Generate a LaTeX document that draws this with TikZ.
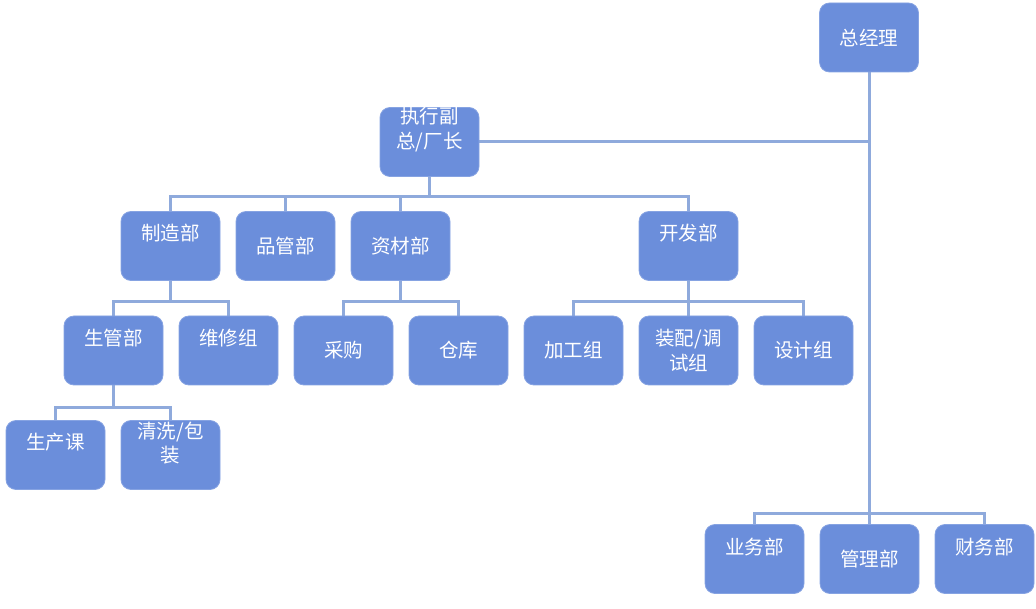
\documentclass[tikz,border=0pt]{standalone}
\usepackage{fontspec}
\setmainfont{Noto Sans CJK SC}
\usetikzlibrary{backgrounds}
\definecolor{boxfill}{HTML}{6B8EDB}
\definecolor{boxline}{HTML}{86A3E2}
\definecolor{conn}{HTML}{8FAADC}
\begin{document}
\begin{tikzpicture}[x=1pt,y=-1pt,
  box/.style={draw=boxline,line width=0.8pt,fill=boxfill,rounded corners=10pt,minimum width=99pt,minimum height=69pt,inner sep=0pt},
  txt/.style={text=white,font=\fontsize{19.5}{24.5}\selectfont,align=center,inner sep=0pt},
  conn/.style={draw=conn,line width=3pt}]
\useasboundingbox (0,0) rectangle (1036,609);
% boxes
\node[box] (zjl) at (869,37.5) {};
\node[box] (zx) at (429.5,142) {};
\node[box] (zz) at (170.5,246) {};
\node[box] (pg) at (285.5,246) {};
\node[box] (zc) at (400.5,246) {};
\node[box] (kf) at (688.5,246) {};
\node[box] (sg) at (113.5,350.5) {};
\node[box] (wx) at (228.5,350.5) {};
\node[box] (cg) at (343.5,350.5) {};
\node[box] (ck) at (458.5,350.5) {};
\node[box] (jg) at (573.5,350.5) {};
\node[box] (zp) at (688.5,350.5) {};
\node[box] (sj) at (803.5,350.5) {};
\node[box] (sc) at (55.5,455) {};
\node[box] (qx) at (170.5,455) {};
\node[box] (yw) at (754.5,559) {};
\node[box] (gl) at (869.5,559) {};
\node[box] (cw) at (984.5,559) {};
% connectors
\begin{scope}[on background layer]
\draw[conn] (zjl.south) -- (zjl.south |- gl.north);
\foreach \c in {yw,gl,cw} \draw[conn] (zjl.south) ++(0,441) -| (\c.north);
\draw[conn] (zx.east) -- (zx.east -| zjl.south);
\foreach \c in {zz,pg,zc,kf} \draw[conn] (zx.south) -- ++(0,20) -| (\c.north);
\foreach \c in {sg,wx} \draw[conn] (zz.south) -- ++(0,21) -| (\c.north);
\foreach \c in {cg,ck} \draw[conn] (zc.south) -- ++(0,21) -| (\c.north);
\foreach \c in {jg,zp,sj} \draw[conn] (kf.south) -- ++(0,21) -| (\c.north);
\foreach \c in {sc,qx} \draw[conn] (sg.south) -- ++(0,22) -| (\c.north);
\end{scope}
% texts
\node[txt] (t1) at (zjl.center) {总经理};
\node[txt] (t2) at ([yshift=-22.5pt]zx.north) {执行副\\总/厂长};
\node[txt] (t3) at ([yshift=-22pt]zz.north) {制造部};
\node[txt] (t4) at (pg.center) {品管部};
\node[txt] (t5) at (zc.center) {资材部};
\node[txt] (t6) at ([yshift=-22pt]kf.north) {开发部};
\node[txt] (t7) at ([yshift=-22pt]sg.north) {生管部};
\node[txt] (t8) at ([yshift=-22pt]wx.north) {维修组};
\node[txt] (t9) at (cg.center) {采购};
\node[txt] (t10) at (ck.center) {仓库};
\node[txt] (t11) at (jg.center) {加工组};
\node[txt] (t12) at (zp.center) {装配/调\\试组};
\node[txt] (t13) at (sj.center) {设计组};
\node[txt] (t14) at ([yshift=-22pt]sc.north) {生产课};
\node[txt] (t15) at ([yshift=-23pt]qx.north) {清洗/包\\装};
\node[txt] (t16) at ([yshift=-23pt]yw.north) {业务部};
\node[txt] (t17) at (gl.center) {管理部};
\node[txt] (t18) at ([yshift=-23pt]cw.north) {财务部};
\end{tikzpicture}
\end{document}
